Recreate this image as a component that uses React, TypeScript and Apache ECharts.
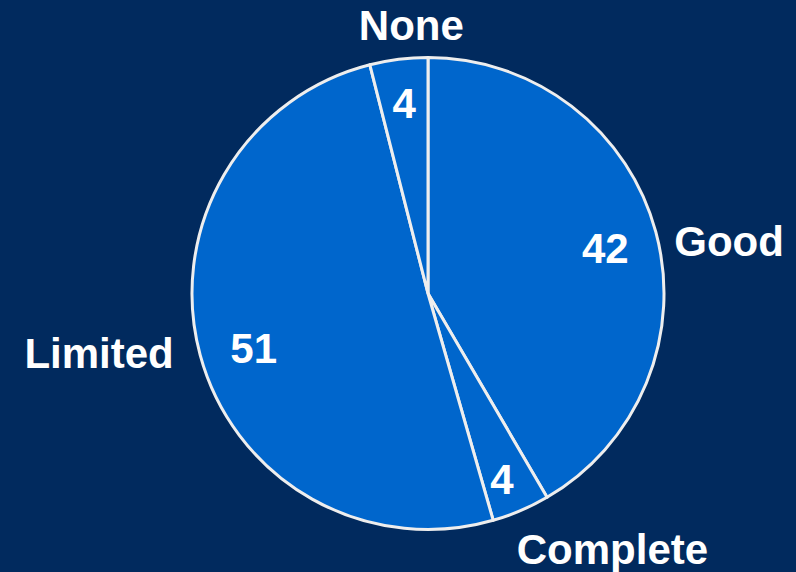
import React, { useEffect, useRef } from "react";
import * as echarts from "echarts";

const categories = ["Good", "Complete", "Limited", "None"];
const values = [42, 4, 51, 4];

// label fine-tuning offsets (pixels) relative to ECharts' default label placement
const nameOffsets: [number, number][] = [[-1, 14], [-15, 25], [-7, -6], [72, -19]];
const valueOffsets: [number, number][] = [[-9, 5], [-2, 9], [12, 5], [0, 2]];

const FONT = "'Liberation Sans', Arial, sans-serif";

export default function App() {
  const ref = useRef<HTMLDivElement>(null);
  useEffect(() => {
    if (!ref.current) return;
    const chart = echarts.init(ref.current, undefined, { renderer: "svg" });
    const data = categories.map((c, i) => ({ name: c, value: values[i] }));
    chart.setOption({
      animation: false,
      backgroundColor: "#012a5e",
      series: [
        {
          type: "pie",
          center: [428, 293.5],
          radius: [0, 236],
          startAngle: 90,
          clockwise: true,
          avoidLabelOverlap: false,
          itemStyle: { color: "#0066cc", borderColor: "#eeeeee", borderWidth: 3 },
          label: {
            show: true,
            position: "outside",
            formatter: "{b}",
            color: "#ffffff",
            fontFamily: FONT,
            fontWeight: "bold",
            fontSize: 42,
            distanceToLabelLine: 5,
          },
          labelLine: { show: false, length: 15, length2: 0 },
          labelLayout: (p: any) => ({
            dx: nameOffsets[p.dataIndex][0],
            dy: nameOffsets[p.dataIndex][1],
          }),
          emphasis: { disabled: true },
          data,
        },
        {
          type: "pie",
          center: [428, 293.5],
          radius: [150, 230],
          startAngle: 90,
          clockwise: true,
          silent: true,
          avoidLabelOverlap: false,
          itemStyle: { color: "rgba(0,0,0,0)", borderWidth: 0 },
          label: {
            show: true,
            position: "inside",
            formatter: "{c}",
            color: "#ffffff",
            fontFamily: FONT,
            fontWeight: "bold",
            fontSize: 42,
          },
          labelLine: { show: false },
          labelLayout: (p: any) => ({
            dx: valueOffsets[p.dataIndex][0],
            dy: valueOffsets[p.dataIndex][1],
          }),
          emphasis: { disabled: true },
          data,
        },
      ],
    });
    return () => chart.dispose();
  }, []);
  return (
    <div
      ref={ref}
      style={{ position: "absolute", left: 0, top: 0, width: 796, height: 572, background: "#012a5e" }}
    />
  );
}
